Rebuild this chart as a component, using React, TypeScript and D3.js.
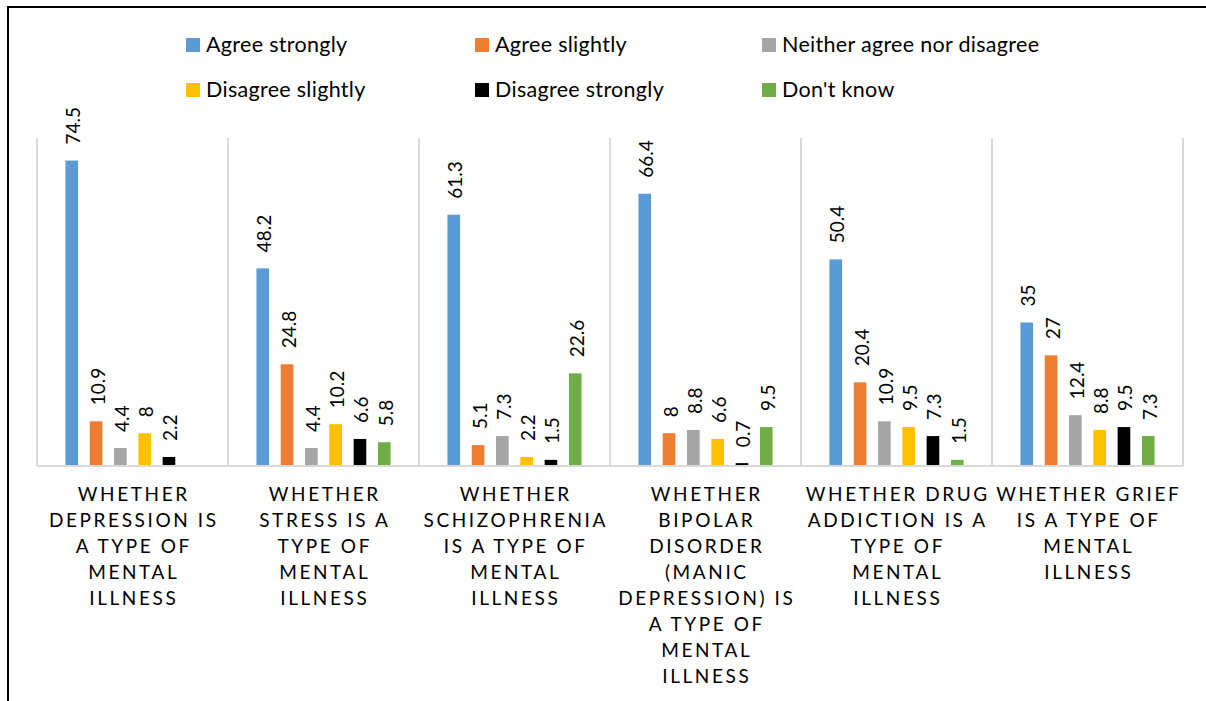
import React from "react";
import * as d3 from "d3";

// Survey: "Is X a type of mental illness?" — response shares (%) per statement
const categoryLines: string[][] = [
  ["Whether", "depression is", "a type of", "mental", "illness"],
  ["Whether", "stress is a", "type of", "mental", "illness"],
  ["Whether", "schizophrenia", "is a type of", "mental", "illness"],
  ["Whether", "bipolar", "disorder", "(manic", "depression) is", "a type of", "mental", "illness"],
  ["Whether drug", "addiction is a", "type of", "mental", "illness"],
  ["Whether grief", "is a type of", "mental", "illness"],
];
const categories = categoryLines.map((l) => l.join(" "));

const seriesNames = [
  "Agree strongly",
  "Agree slightly",
  "Neither agree nor disagree",
  "Disagree slightly",
  "Disagree strongly",
  "Don't know",
];
const seriesColors = ["#5B9BD5", "#ED7D31", "#A5A5A5", "#FFC000", "#000000", "#70AD47"];

const agreeStrongly = [74.5, 48.2, 61.3, 66.4, 50.4, 35];
const agreeSlightly = [10.9, 24.8, 5.1, 8, 20.4, 27];
const neither = [4.4, 4.4, 7.3, 8.8, 10.9, 12.4];
const disagreeSlightly = [8, 10.2, 2.2, 6.6, 9.5, 8.8];
const disagreeStrongly = [2.2, 6.6, 1.5, 0.7, 7.3, 9.5];
const dontKnow: (number | null)[] = [null, 5.8, 22.6, 9.5, 1.5, 7.3];

const seriesValues: (number | null)[][] = [
  agreeStrongly,
  agreeSlightly,
  neither,
  disagreeSlightly,
  disagreeStrongly,
  dontKnow,
];

const W = 1206;
const H = 701;
const plot = { left: 37, right: 1183, top: 138, bottom: 466 };
const FONT = "Lato, 'Liberation Sans', Arial, sans-serif";

export default function App() {
  const x0 = d3.scaleBand<string>().domain(categories).range([plot.left, plot.right]);
  const x1 = d3
    .scaleBand<string>()
    .domain(seriesNames)
    .range([0, x0.bandwidth()])
    .paddingInner(0.48)
    .paddingOuter(1.17);
  const y = d3.scaleLinear().domain([0, 80]).range([plot.bottom, plot.top]);

  const separators = [...categories.map((c) => x0(c)!), plot.right];

  const legendCols = [186, 475, 762];
  const legendRows = [45, 90];

  return (
    <div style={{ position: "fixed", left: 0, top: 0, width: W, height: H, background: "#fff" }}>
      <svg width={W} height={H} style={{ display: "block", fontFamily: FONT }}>
        <rect x={0} y={0} width={W} height={H} fill="#fff" />
        {/* chart frame */}
        <line x1={8} y1={7} x2={W} y2={7} stroke="#000" strokeWidth={2} />
        <line x1={8} y1={6} x2={8} y2={H} stroke="#000" strokeWidth={2} />

        {/* category separators */}
        {separators.map((sx, i) => (
          <line key={i} x1={sx} x2={sx} y1={plot.top} y2={plot.bottom} stroke="#D9D9D9" strokeWidth={2} />
        ))}

        {/* bars + value labels */}
        {categories.map((cat, ci) => (
          <g key={cat}>
            {seriesNames.map((s, si) => {
              const v = seriesValues[si][ci];
              if (v == null) return null;
              const bx = x0(cat)! + x1(s)!;
              const bw = x1.bandwidth();
              const cx = bx + bw / 2;
              return (
                <g key={s}>
                  <rect x={bx} y={y(v)} width={bw} height={plot.bottom - y(v)} fill={seriesColors[si]} />
                  <text
                    transform={`translate(${cx},${y(v) - 16}) rotate(-90)`}
                    y={8.5}
                    fontSize={19}
                    fill="#000"
                  >
                    {v}
                  </text>
                </g>
              );
            })}
          </g>
        ))}

        {/* baseline */}
        <line x1={plot.left} x2={plot.right} y1={plot.bottom} y2={plot.bottom} stroke="#D9D9D9" strokeWidth={2} />

        {/* category labels */}
        {categoryLines.map((lines, ci) => {
          const cx = x0(categories[ci])! + x0.bandwidth() / 2;
          return (
            <text key={ci} textAnchor="middle" fontSize={19} fill="#000" letterSpacing={2.6}>
              {lines.map((ln, li) => (
                <tspan key={li} x={cx + 1.3} y={501 + li * 26}>
                  {ln.toUpperCase()}
                </tspan>
              ))}
            </text>
          );
        })}

        {/* legend */}
        {seriesNames.map((s, i) => {
          const lx = legendCols[i % 3];
          const ly = legendRows[Math.floor(i / 3)];
          return (
            <g key={s}>
              <rect x={lx} y={ly - 7} width={14} height={14} fill={seriesColors[i]} />
              <text x={lx + 20} y={ly + 7} fontSize={21.5} letterSpacing={0.3} fill="#000">
                {s}
              </text>
            </g>
          );
        })}
      </svg>
    </div>
  );
}
